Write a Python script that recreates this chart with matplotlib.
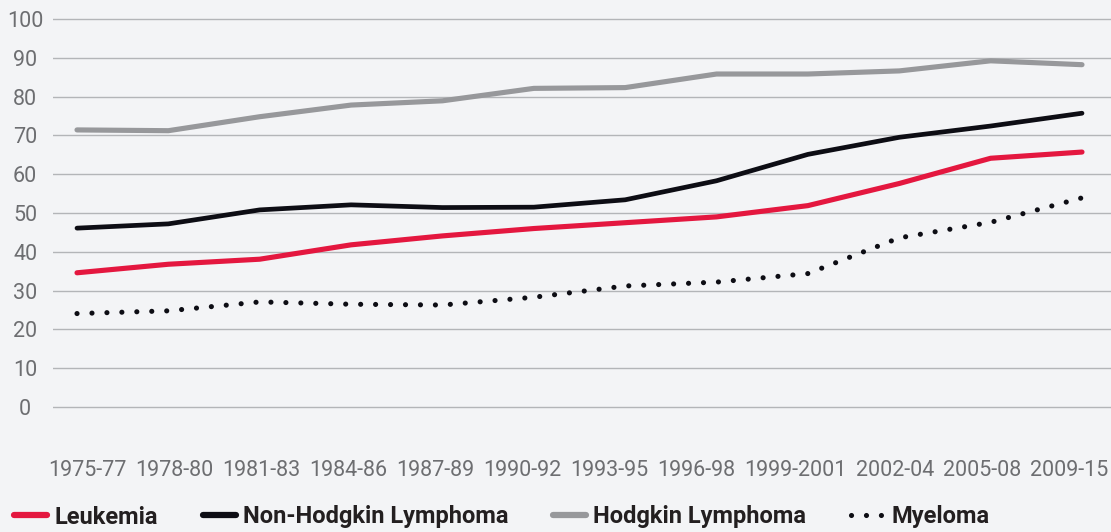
import matplotlib
matplotlib.use("Agg")
import matplotlib.pyplot as plt
from matplotlib.lines import Line2D

# ---------------------------------------------------------------------------
# Data (5-year relative survival, %)
# ---------------------------------------------------------------------------
periods = ["1975-77", "1978-80", "1981-83", "1984-86", "1987-89", "1990-92",
           "1993-95", "1996-98", "1999-2001", "2002-04", "2005-08", "2009-15"]
leukemia = [34.6, 36.8, 38.1, 41.8, 44.1, 46.0, 47.5, 49.0, 51.9, 57.6, 64.1, 65.7]
nhl = [46.1, 47.2, 50.8, 52.1, 51.4, 51.5, 53.4, 58.3, 65.1, 69.5, 72.4, 75.7]
hodgkin = [71.4, 71.2, 74.8, 77.8, 78.9, 82.1, 82.3, 85.8, 85.8, 86.6, 89.2, 88.2]
myeloma = [24.1, 24.8, 27.1, 26.5, 26.3, 28.3, 31.2, 32.2, 34.4, 43.6, 47.6, 53.9]
y_ticks = list(range(0, 101, 10))

BG = "#f3f4f6"
RED = "#e4173f"
BLACK = "#0d0d14"
GRAY = "#97989b"
GRID = "#b3b5b8"
TICK = "#6d6e71"
FONT = "Roboto"
DOTS = (0, (0.01, 2.9))

W, H = 1111, 532
fig = plt.figure(figsize=(W / 100, H / 100), dpi=100, facecolor=BG)

# axes box in pixels: left 53, right 1111, y=-1 at 411, y=101 at 15
ax = fig.add_axes([53 / W, (H - 411) / H, (W - 53) / W, (411 - 15) / H])
ax.set_facecolor(BG)

x = list(range(len(periods)))
step = (1082 - 77) / 11
ax.set_xlim(-(77 - 53) / step, 11 + (W - 1082) / step)
ax.set_ylim(-1, 101)

ax.plot(x, hodgkin, color=GRAY, lw=3.7, solid_capstyle="round", zorder=3)
ax.plot(x, nhl, color=BLACK, lw=3.4, solid_capstyle="round", zorder=4)
ax.plot(x, leukemia, color=RED, lw=3.7, solid_capstyle="round", zorder=5)
ax.plot(x, myeloma, color=BLACK, lw=3.7, linestyle=DOTS,
        dash_capstyle="round", zorder=4)

ax.set_yticks(y_ticks)
ax.yaxis.grid(True, color=GRID, lw=1.0)
ax.set_axisbelow(True)
ax.tick_params(axis="y", length=0, pad=20, labelsize=15.5, labelcolor=TICK)
for lab in ax.get_yticklabels():
    lab.set_horizontalalignment("center")
    lab.set_fontfamily(FONT)
ax.set_xticks([])
for s in ax.spines.values():
    s.set_visible(False)

# x labels: packed in one row from px 48 to px 1108 with equal gaps
ax2 = ax.twiny()
ax2.set_xlim(53, W)
ax2.xaxis.set_ticks_position("bottom")
ax2.xaxis.set_label_position("bottom")
renderer = fig.canvas.get_renderer()
widths = []
for p in periods:
    t = fig.text(0, 0, p, fontsize=15.5, fontfamily=FONT)
    widths.append(t.get_window_extent(renderer).width)
    t.remove()
gap = (1108 - 48 - sum(widths)) / (len(periods) - 1)
centers = []
left = 48
for w in widths:
    centers.append(left + w / 2)
    left += w + gap
ax2.set_xticks(centers)
ax2.set_xticklabels(periods, fontfamily=FONT)
ax2.tick_params(axis="x", length=0, pad=35, labelsize=15.5, labelcolor=TICK)
for s in ax2.spines.values():
    s.set_visible(False)

handles = [
    Line2D([], [], color=RED, lw=4.5, solid_capstyle="round"),
    Line2D([], [], color=BLACK, lw=4.5, solid_capstyle="round"),
    Line2D([], [], color=GRAY, lw=4.5, solid_capstyle="round"),
    Line2D([], [], color=BLACK, lw=3.7, linestyle=DOTS,
           dash_capstyle="round"),
]
names = ["Leukemia", "Non-Hodgkin Lymphoma", "Hodgkin Lymphoma", "Myeloma"]
fig.legend(handles, names, loc="center left",
           bbox_to_anchor=(14 / W, (H - 517) / H), ncol=4, frameon=False,
           borderpad=0, borderaxespad=0, handlelength=1.4, handletextpad=0.3,
           columnspacing=1.9,
           prop={"family": FONT, "weight": "bold", "size": 17},
           labelcolor="#231f20")

fig.savefig("out.png", dpi=100, facecolor=BG)
